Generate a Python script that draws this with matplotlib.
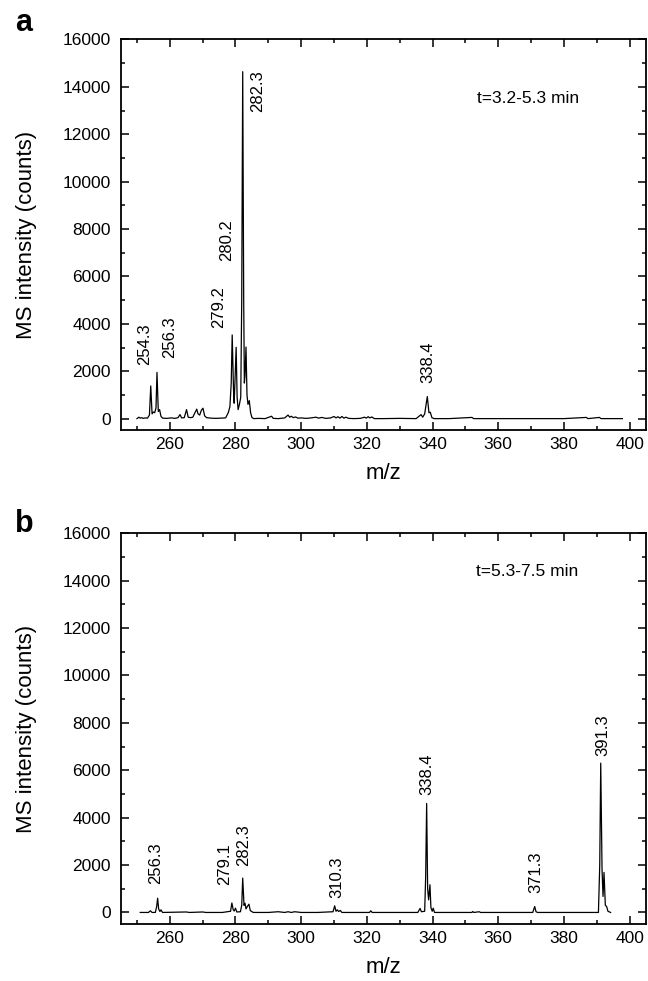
import matplotlib
matplotlib.use('Agg')
import matplotlib.pyplot as plt
from matplotlib.ticker import MultipleLocator

plt.rcParams['font.family'] = ['Liberation Sans', 'DejaVu Sans']

# panel a: t=3.2-5.3 min
mz_a = [250.0, 250.6, 251.0, 251.4, 251.9, 252.5, 253.2, 253.8, 254.2, 254.6,
        255.0, 255.4, 255.8, 256.1, 256.5, 256.9, 257.3, 257.8, 259.0, 260.5,
        261.5, 262.5, 263.1, 263.6, 264.4, 265.1, 265.6, 266.3, 267.0, 268.2,
        268.6, 269.1, 269.6, 270.1, 270.6, 271.2, 272.5, 274.0, 275.5, 277.0,
        277.8, 278.3, 278.7, 279.0, 279.4, 279.6, 279.9, 280.2, 280.5, 280.8,
        281.2, 281.6, 281.9, 282.2, 282.5, 282.7, 282.9, 283.2, 283.5, 283.8,
        284.2, 284.6, 285.0, 285.5, 287.0, 289.0, 291.0, 291.5, 293.0, 295.0,
        296.0, 296.5, 297.0, 297.6, 298.3, 299.0, 300.0, 301.5, 303.0, 304.5,
        305.3, 306.3, 307.5, 309.0, 310.0, 310.6, 311.2, 311.8, 312.4, 313.0,
        313.6, 314.5, 316.0, 318.0, 319.3, 319.8, 320.4, 320.9, 321.5, 322.3,
        325.0, 330.0, 335.0, 336.5, 337.0, 337.6, 338.4, 338.9, 339.3, 339.8,
        340.5, 345.0, 352.0, 352.5, 360.0, 370.0, 380.0, 386.8, 387.3, 390.8,
        391.3, 397.8]
int_a = [0, 60, 20, 40, 10, 30, 20, 150, 1380, 200,
         280, 250, 450, 1950, 300, 380, 100, 20, 10, 30,
         10, 40, 170, 30, 40, 380, 60, 40, 60, 400,
         200, 150, 350, 440, 120, 40, 20, 10, 20, 30,
         250, 500, 1500, 3530, 1200, 650, 1800, 3010, 900, 380,
         600, 900, 5000, 14640, 5000, 1500, 1800, 3020, 1000, 600,
         760, 250, 50, 0, 10, 0, 100, 10, 0, 30,
         150, 60, 100, 40, 70, 20, 30, 10, 30, 60,
         20, 50, 10, 30, 90, 30, 80, 20, 90, 20,
         60, 10, 0, 10, 60, 20, 80, 30, 70, 0,
         0, 10, 0, 170, 60, 200, 930, 250, 270, 40,
         0, 0, 50, 0, 0, 0, 0, 50, 0, 50,
         0, 0]
labels_a = ['254.3', '256.3', '279.2', '280.2', '282.3', '338.4']
label_x_a = [252.2, 259.8, 274.8, 277.3, 286.8, 338.5]
label_y_a = [2270, 2550, 3840, 6670, 12950, 1500]

# panel b: t=5.3-7.5 min
mz_b = [251.0, 253.5, 254.1, 254.6, 255.6, 256.0, 256.3, 256.6, 257.0, 257.3,
        257.8, 265.0, 266.0, 270.0, 271.0, 276.0, 278.5, 278.9, 279.3, 279.6,
        280.0, 280.4, 281.5, 281.9, 282.2, 282.6, 282.9, 283.2, 283.6, 284.1,
        284.5, 285.4, 290.0, 293.0, 295.0, 296.0, 297.0, 298.0, 300.0, 305.0,
        309.7, 310.2, 310.6, 311.0, 311.4, 311.9, 312.4, 320.8, 321.2, 321.6,
        329.0, 335.5, 336.2, 336.6, 337.6, 337.9, 338.2, 338.5, 338.8, 339.2,
        339.5, 339.9, 340.2, 340.6, 352.0, 352.2, 352.6, 354.2, 354.6, 370.5,
        371.1, 371.5, 372.0, 390.5, 390.9, 391.2, 391.6, 391.9, 392.2, 392.6,
        393.0, 393.4, 394.2]
int_b = [0, 0, 70, 0, 0, 250, 600, 150, 40, 110,
         0, 20, 0, 20, 0, 0, 50, 400, 120, 60,
         180, 20, 30, 300, 1450, 300, 390, 150, 250, 350,
         80, 0, 0, 30, 0, 30, 0, 30, 0, 0,
         30, 280, 50, 110, 40, 85, 0, 0, 70, 0,
         0, 0, 170, 30, 50, 1500, 4600, 1000, 530, 1170,
         200, 50, 180, 0, 0, 40, 0, 30, 0, 0,
         250, 30, 0, 0, 2000, 6300, 1800, 675, 1690, 300,
         250, 50, 0]
labels_b = ['256.3', '279.1', '282.3', '310.3', '338.4', '371.3', '391.3']
label_x_b = [255.6, 276.7, 282.6, 310.7, 338.3, 371.5, 391.8]
label_y_b = [1210, 1170, 1940, 605, 4965, 815, 6610]

panels = [
    ('a', 't=3.2-5.3 min', 13500, mz_a, int_a, labels_a, label_x_a, label_y_a),
    ('b', 't=5.3-7.5 min', 14400, mz_b, int_b, labels_b, label_x_b, label_y_b),
]

fig = plt.figure(figsize=(6.48, 9.81), dpi=100)
boxes = [[0.186, 0.5612, 0.811, 0.3986], [0.186, 0.0578, 0.811, 0.3986]]
letter_y = [0.9687, 0.4577]

for box, ly, (letter, ttext, ty, mz, inten, labs, lx, lyv) in zip(boxes, letter_y, panels):
    ax = fig.add_axes(box)
    ax.plot(mz, inten, color='k', lw=0.9)
    for t, x, y in zip(labs, lx, lyv):
        ax.text(x, y, t, rotation=90, ha='center', va='bottom', fontsize=12)
    ax.text(384.5, ty, ttext, ha='right', va='center', fontsize=12.5)

    ax.set_xlim(245, 405)
    ax.set_ylim(-500, 16000)
    ax.xaxis.set_major_locator(MultipleLocator(20))
    ax.xaxis.set_minor_locator(MultipleLocator(10))
    ax.yaxis.set_major_locator(MultipleLocator(2000))
    ax.yaxis.set_minor_locator(MultipleLocator(1000))
    ax.set_xticks(range(260, 401, 20))
    ax.tick_params(which='both', direction='in', top=True, right=True, width=1.1)
    ax.tick_params(which='major', length=5.5)
    ax.tick_params(which='minor', length=3)
    ax.tick_params(axis='x', labelsize=12.5, pad=5)
    ax.tick_params(axis='y', labelsize=12.5, pad=7)
    for s in ax.spines.values():
        s.set_linewidth(1.3)

    ax.set_xlabel('m/z', fontsize=16, labelpad=7.5)
    ax.set_ylabel('MS intensity (counts)', fontsize=16)
    ax.yaxis.set_label_coords(-0.159, 0.5)

    fig.text(0.023, ly, letter, fontsize=22, fontweight='bold', va='baseline')

fig.savefig('out.png', dpi=100)
